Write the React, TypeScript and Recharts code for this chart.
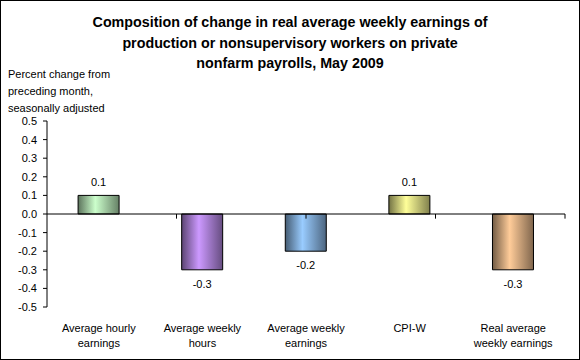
import { Bar, BarChart, Cell, LabelList, ReferenceLine, XAxis, YAxis } from "recharts";

const categories = [
  "Average hourly\nearnings",
  "Average weekly\nhours",
  "Average weekly\nearnings",
  "CPI-W",
  "Real average\nweekly earnings",
];
const values = [0.1, -0.3, -0.2, 0.1, -0.3];
const barColors = ["#CCFFCC", "#CC99FF", "#99CCFF", "#FFFF99", "#FFCC99"];
const yTicks = [-0.5, -0.4, -0.3, -0.2, -0.1, 0, 0.1, 0.2, 0.3, 0.4, 0.5];
const boundaryTicks = [1, 2, 3, 4, 5];

const FONT = "'Liberation Sans', Arial, sans-serif";

const data = categories.map((name, i) => ({ name, value: values[i] }));

// Excel-style cylinder shading: dark edges, light band just left of centre
function shade(hex: string, k: number) {
  const n = parseInt(hex.slice(1), 16);
  const r = Math.round(((n >> 16) & 255) * k);
  const g = Math.round(((n >> 8) & 255) * k);
  const b = Math.round((n & 255) * k);
  return `rgb(${r},${g},${b})`;
}

function CategoryTick(props: any) {
  const { x, y, payload } = props;
  const lines = String(payload.value).split("\n");
  return (
    <text x={x} y={y} textAnchor="middle" fontSize={11} fontFamily={FONT} fill="#000">
      {lines.map((line, i) => (
        <tspan key={i} x={x} dy={i === 0 ? 25 : 15}>
          {line}
        </tspan>
      ))}
    </text>
  );
}

function ValueLabel(props: any) {
  const { x, y, width, height, value } = props;
  const top = Math.min(y, y + height);
  const bottom = Math.max(y, y + height);
  const ty = value >= 0 ? top - 13 : bottom + 14;
  return (
    <text
      x={x + width / 2}
      y={ty}
      textAnchor="middle"
      dominantBaseline="central"
      fontSize={11}
      fontFamily={FONT}
      fill="#000"
    >
      {value.toFixed(1)}
    </text>
  );
}

export default function App() {
  return (
    <div
      style={{
        position: "absolute",
        left: 0,
        top: 0,
        width: 580,
        height: 360,
        background: "#fff",
        fontFamily: FONT,
      }}
    >
      <BarChart
        width={580}
        height={360}
        data={data}
        margin={{ top: 121, right: 15, left: 0, bottom: 0 }}
        barCategoryGap="30%"
      >
        <defs>
          {barColors.map((c, i) => (
            <linearGradient key={i} id={`bar-grad-${i}`} x1="0" y1="0" x2="1" y2="0">
              <stop offset="0%" stopColor={shade(c, 0.45)} />
              <stop offset="42%" stopColor={c} />
              <stop offset="100%" stopColor={shade(c, 0.5)} />
            </linearGradient>
          ))}
        </defs>
        <XAxis
          xAxisId="cat"
          dataKey="name"
          axisLine={false}
          tickLine={false}
          tickSize={0}
          tickMargin={0}
          height={53}
          interval={0}
          tick={<CategoryTick />}
        />
        <XAxis xAxisId="num" type="number" domain={[0, 5]} hide />
        <YAxis
          domain={[-0.5, 0.5]}
          ticks={yTicks}
          width={47}
          tickSize={4}
          tickMargin={6}
          interval={0}
          stroke="#000"
          tick={{ fontSize: 11, fontFamily: FONT, fill: "#000" }}
          tickFormatter={(v: number) => v.toFixed(1)}
        />
        <ReferenceLine xAxisId="cat" y={0} stroke="#000" />
        {boundaryTicks.map((t) => (
          <ReferenceLine
            key={t}
            xAxisId="num"
            segment={[
              { x: t, y: 0 },
              { x: t, y: -0.025 },
            ]}
            stroke="#000"
          />
        ))}
        <Bar xAxisId="cat" dataKey="value" stroke="#000" strokeWidth={1} isAnimationActive={false}>
          {data.map((_, i) => (
            <Cell key={i} fill={`url(#bar-grad-${i})`} />
          ))}
          <LabelList dataKey="value" content={<ValueLabel />} />
        </Bar>
      </BarChart>
      <div
        style={{
          position: "absolute",
          left: 0,
          top: 12,
          width: 580,
          textAlign: "center",
          fontSize: 14.3,
          fontWeight: "bold",
          lineHeight: "20.5px",
          color: "#000",
        }}
      >
        Composition of change in real average weekly earnings of
        <br />
        production or nonsupervisory workers on private
        <br />
        nonfarm payrolls, May 2009
      </div>
      <div
        style={{
          position: "absolute",
          left: 8,
          top: 66,
          fontSize: 11,
          lineHeight: "17px",
          color: "#000",
        }}
      >
        Percent change from
        <br />
        preceding month,
        <br />
        seasonally adjusted
      </div>
      <div
        style={{
          position: "absolute",
          left: 0,
          top: 0,
          width: 580,
          height: 360,
          boxSizing: "border-box",
          border: "1px solid #000",
          pointerEvents: "none",
        }}
      />
    </div>
  );
}
